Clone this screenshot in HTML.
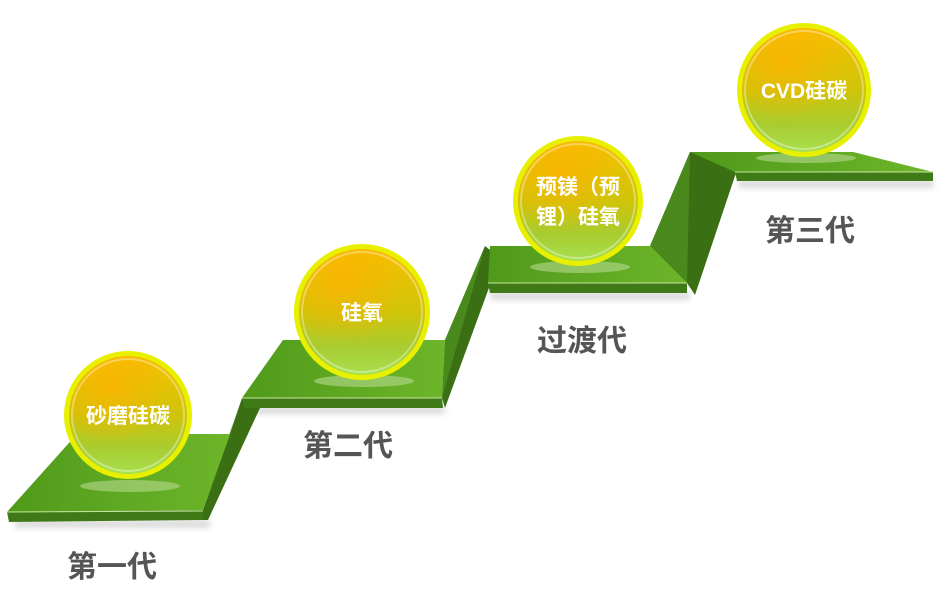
<!DOCTYPE html>
<html><head><meta charset="utf-8"><style>
html,body{margin:0;padding:0;background:#fff;width:949px;height:602px;overflow:hidden}
</style></head><body>
<svg width="949" height="602" viewBox="0 0 949 602" xmlns="http://www.w3.org/2000/svg">
<defs>
<linearGradient id="top" x1="0" y1="0" x2="1" y2="0">
<stop offset="0" stop-color="#4f9a1a"/><stop offset="1" stop-color="#6db62a"/></linearGradient>
<linearGradient id="ball" x1="0" y1="0" x2="0" y2="1">
<stop offset="0" stop-color="#f7c000"/><stop offset="0.5" stop-color="#d0c408"/><stop offset="0.78" stop-color="#a8cc30"/><stop offset="1" stop-color="#a8e050"/></linearGradient>
<radialGradient id="hl" cx="0.35" cy="0.25" r="0.5">
<stop offset="0" stop-color="#ffb000" stop-opacity="0.7"/><stop offset="1" stop-color="#ffb000" stop-opacity="0"/></radialGradient>
<filter id="sh"><feGaussianBlur stdDeviation="3"/></filter>
</defs>
<!-- step shadows -->
<g fill="#999" opacity="0.35" filter="url(#sh)">
<rect x="15" y="520" width="195" height="8"/><rect x="245" y="406" width="200" height="8"/>
<rect x="490" y="292" width="200" height="8"/><rect x="738" y="180" width="196" height="8"/>
</g>
<!-- risers -->
<polygon points="230,434 242,398 260,408 208,520 203,520 203,510" fill="#3a6f14"/>
<polygon points="230,434 242,398 203,510" fill="#4a8a1c"/>
<polygon points="445,340 485,246 490,250 490,285 445,408 442,398" fill="#3a6f14"/>
<polygon points="445,340 485,246 442,398" fill="#4a8a1c"/>
<polygon points="650,246 690,152 737,170 695,295 687,283" fill="#3a6f14"/>
<polygon points="650,246 690,152 687,283" fill="#4a8a1c"/>
<!-- step 1 -->
<polygon points="77,434 230,434 203,510 7,512" fill="url(#top)"/>
<polygon points="7,512 203,510 203,520 9,522" fill="#3f7a17"/>
<line x1="7" y1="512" x2="203" y2="511" stroke="#c9e6a0" stroke-width="1"/>
<!-- step 2 -->
<polygon points="283,340 445,340 442,398 242,398" fill="url(#top)"/>
<polygon points="242,398 442,398 443,408 244,408" fill="#3f7a17"/>
<line x1="242" y1="398" x2="442" y2="398" stroke="#c9e6a0"/>
<!-- step 3 -->
<polygon points="490,246 650,246 687,283 488,283" fill="url(#top)"/>
<polygon points="488,283 687,283 687,293 490,293" fill="#3f7a17"/>
<line x1="488" y1="283" x2="687" y2="283" stroke="#c9e6a0"/>
<!-- step 4 -->
<polygon points="690,152 853,152 933,172 735,172" fill="url(#top)"/>
<polygon points="735,172 933,172 933,181 737,181" fill="#3f7a17"/>
<line x1="735" y1="172" x2="933" y2="172" stroke="#c9e6a0"/>
<!-- balls -->
<g>
<ellipse cx="130" cy="486" rx="50" ry="6" fill="#b8d890" opacity="0.6"/>
<circle cx="128" cy="415" r="64" fill="#e8f000"/>
<circle cx="128" cy="415" r="59" fill="url(#ball)"/><circle cx="128" cy="415" r="59" fill="url(#hl)"/>
<circle cx="128" cy="415" r="56" fill="none" stroke="#fff" stroke-opacity="0.35" stroke-width="2"/>
<ellipse cx="364" cy="381" rx="50" ry="6" fill="#b8d890" opacity="0.6"/>
<circle cx="362" cy="312" r="68" fill="#e8f000"/>
<circle cx="362" cy="312" r="63" fill="url(#ball)"/><circle cx="362" cy="312" r="63" fill="url(#hl)"/>
<circle cx="362" cy="312" r="60" fill="none" stroke="#fff" stroke-opacity="0.35" stroke-width="2"/>
<ellipse cx="580" cy="267" rx="50" ry="6" fill="#b8d890" opacity="0.6"/>
<circle cx="578" cy="201" r="65" fill="#e8f000"/>
<circle cx="578" cy="201" r="60" fill="url(#ball)"/><circle cx="578" cy="201" r="60" fill="url(#hl)"/>
<circle cx="578" cy="201" r="57" fill="none" stroke="#fff" stroke-opacity="0.35" stroke-width="2"/>
<ellipse cx="806" cy="158" rx="50" ry="5" fill="#b8d890" opacity="0.6"/>
<circle cx="804" cy="90" r="67" fill="#e8f000"/>
<circle cx="804" cy="90" r="62" fill="url(#ball)"/><circle cx="804" cy="90" r="62" fill="url(#hl)"/>
<circle cx="804" cy="90" r="59" fill="none" stroke="#fff" stroke-opacity="0.35" stroke-width="2"/>
</g>
<g font-family="'Liberation Sans','Noto Sans CJK SC',sans-serif" font-weight="bold" fill="#fff" font-size="21" text-anchor="middle">
<text x="128" y="423">砂磨硅碳</text>
<text x="362" y="320">硅氧</text>
<text x="578" y="194">预镁（预</text>
<text x="578" y="224">锂）硅氧</text>
<text x="804" y="98">CVD硅碳</text>
</g>
<g font-family="'Liberation Sans','Noto Sans CJK SC',sans-serif" font-weight="bold" fill="#555" font-size="30" text-anchor="middle">
<text x="112" y="577">第一代</text>
<text x="348" y="456">第二代</text>
<text x="582" y="351">过渡代</text>
<text x="810" y="241">第三代</text>
</g>
</svg>
</body></html>
